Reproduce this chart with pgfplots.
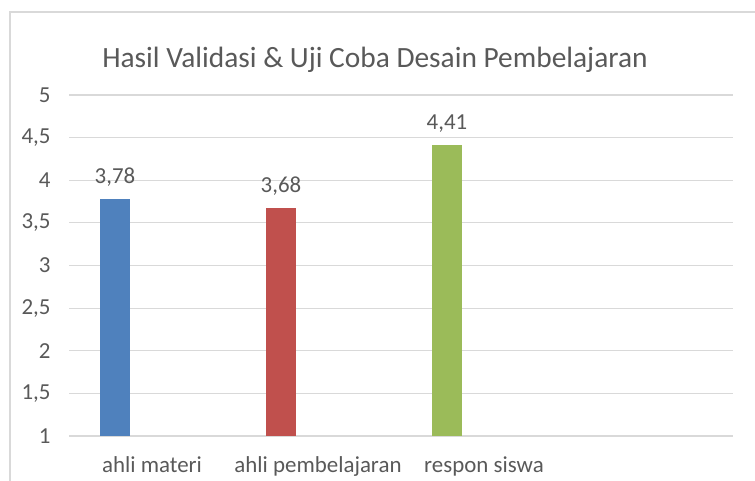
\documentclass[border=0pt]{standalone}
\usepackage{pgfplots}
\pgfplotsset{compat=1.18}
\usepackage{fontspec}
\setmainfont{Carlito}
\definecolor{txt}{HTML}{595959}
\definecolor{gridc}{HTML}{D9D9D9}
\definecolor{cblue}{HTML}{4F81BD}
\definecolor{cred}{HTML}{C0504D}
\definecolor{cgreen}{HTML}{9BBB59}
\begin{document}
\begin{tikzpicture}[x=1bp,y=1bp]
\path[use as bounding box] (0,0) rectangle (755,481);
\draw[gridc, line width=1.2bp] (10,0) -- (10,469) -- (755,469);
\node[txt, font=\fontsize{29.5}{34}\selectfont] at (375,421) {Hasil Validasi \& Uji Coba Desain Pembelajaran};
\begin{axis}[
  at={(69bp,45bp)}, anchor=south west,
  scale only axis, width=664bp, height=341bp,
  xmin=0.5, xmax=4.5, ymin=1, ymax=5,
  ytick={1,1.5,...,5},
  xtick={1,2,3}, xticklabels={ahli materi, ahli pembelajaran, respon siswa},
  major tick length=0pt,
  axis line style={draw=none},
  ymajorgrids=true, xmajorgrids=false, grid style={draw=gridc, line width=1.2bp},
  tick label style={txt, font=\fontsize{23}{27}\selectfont},
  /pgf/number format/.cd, use comma, assume math mode=true,
  /pgfplots/.cd,
  yticklabel style={xshift=-15bp},
  xticklabel style={yshift=-17bp},
  ybar, bar width=30bp, bar shift=0pt,
  nodes near coords, nodes near coords style={txt, yshift=9bp, font=\fontsize{23}{27}\selectfont, /pgf/number format/.cd, fixed, fixed zerofill, precision=2, use comma, assume math mode=true},
  clip=false,
]
\addplot[fill=cblue, draw=none] coordinates {(0.777,3.78)};
\addplot[fill=cred, draw=none] coordinates {(1.777,3.68)};
\addplot[fill=cgreen, draw=none] coordinates {(2.777,4.41)};
\end{axis}
\end{tikzpicture}
\end{document}
